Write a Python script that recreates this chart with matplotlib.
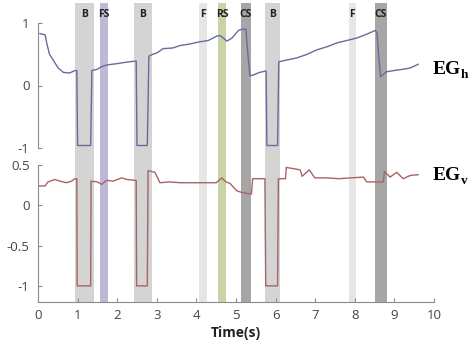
import matplotlib
matplotlib.use("Agg")
import matplotlib.pyplot as plt

# ---- data ----
event_labels = ["B", "FS", "B", "F", "RS", "CS", "B", "F", "CS"]
event_start = [0.93, 1.56, 2.42, 4.07, 4.55, 5.12, 5.73, 7.85, 8.50]
event_end = [1.41, 1.78, 2.88, 4.28, 4.76, 5.37, 6.11, 8.02, 8.81]
event_colors = {"B": "#d4d4d4", "FS": "#bdb9d6", "F": "#e6e6e6",
                "RS": "#c9d4a6", "CS": "#a6a6a6"}

egh_t = [0.05, 0.18, 0.22, 0.29, 0.39, 0.51, 0.64, 0.80, 0.93, 0.98, 1.00, 1.33, 1.36,
         1.50, 1.60, 1.75, 2.00, 2.20, 2.45, 2.48, 2.50, 2.76, 2.80, 2.90, 3.00, 3.16,
         3.40, 3.59, 3.80, 4.09, 4.30, 4.51, 4.60, 4.77, 4.90, 5.06, 5.15, 5.25, 5.30,
         5.35, 5.40, 5.60, 5.74, 5.76, 5.78, 6.05, 6.08, 6.30, 6.53, 6.80, 7.04, 7.30,
         7.54, 7.80, 8.05, 8.30, 8.51, 8.56, 8.60, 8.65, 8.80, 9.00, 9.22, 9.40, 9.60]
egh_v = [0.83, 0.81, 0.68, 0.50, 0.40, 0.28, 0.21, 0.20, 0.24, 0.24, -0.96, -0.96, 0.24,
         0.26, 0.30, 0.33, 0.35, 0.37, 0.39, 0.39, -0.96, -0.96, 0.47, 0.50, 0.52, 0.59,
         0.60, 0.64, 0.66, 0.70, 0.72, 0.79, 0.80, 0.71, 0.76, 0.88, 0.90, 0.90, 0.50,
         0.16, 0.16, 0.21, 0.23, 0.23, -0.96, -0.96, 0.38, 0.41, 0.44, 0.50, 0.57, 0.62,
         0.68, 0.72, 0.76, 0.82, 0.88, 0.85, 0.50, 0.14, 0.22, 0.24, 0.26, 0.28, 0.34]

egv_t = [0.03, 0.18, 0.25, 0.43, 0.55, 0.72, 0.85, 0.93, 0.98, 0.99, 1.33, 1.34, 1.50,
         1.61, 1.73, 1.90, 2.11, 2.25, 2.45, 2.48, 2.49, 2.76, 2.78, 2.95, 3.08, 3.30,
         3.60, 4.00, 4.50, 4.64, 4.75, 4.85, 5.02, 5.14, 5.39, 5.42, 5.73, 5.75, 6.05,
         6.07, 6.25, 6.27, 6.62, 6.67, 6.85, 6.99, 7.30, 7.60, 7.90, 8.22, 8.30, 8.72,
         8.75, 8.89, 9.06, 9.22, 9.40, 9.60]
egv_v = [0.24, 0.24, 0.29, 0.32, 0.30, 0.28, 0.30, 0.33, 0.33, -1.0, -1.0, 0.30, 0.29,
         0.26, 0.31, 0.30, 0.34, 0.32, 0.31, 0.31, -1.0, -1.0, 0.43, 0.41, 0.28, 0.29,
         0.28, 0.28, 0.28, 0.34, 0.29, 0.27, 0.18, 0.16, 0.14, 0.33, 0.33, -1.0, -1.0,
         0.33, 0.33, 0.47, 0.44, 0.36, 0.44, 0.34, 0.34, 0.33, 0.34, 0.35, 0.29, 0.29,
         0.42, 0.35, 0.41, 0.33, 0.37, 0.38]

x_ticks = [0, 1, 2, 3, 4, 5, 6, 7, 8, 9, 10]
top_ticks = [-1, 0, 1]
bot_ticks = [-1, -0.5, 0, 0.5]
bot_tick_labels = ["-1", "-0.5", "0", "0.5"]

W, H = 472, 347
fig = plt.figure(figsize=(W / 100, H / 100), dpi=100)
plt.rcParams['font.family'] = ['Open Sans', 'DejaVu Sans']

def rect(x0, y_top, x1, y_bot):
    return [x0 / W, (H - y_bot) / H, (x1 - x0) / W, (y_bot - y_top) / H]

axis_color = "#8c8c8c"
tick_color = "#444444"

# background shading axes
ax_bg = fig.add_axes(rect(38, 3, 434, 302))
ax_bg.set_xlim(0, 10)
ax_bg.set_ylim(0, 1)
for s0, s1, lab in zip(event_start, event_end, event_labels):
    ax_bg.axvspan(s0, s1, color=event_colors[lab], lw=0)
    ax_bg.text((s0 + s1) / 2, 0.96, lab, ha="center", va="center",
               fontsize=7.5, fontweight="bold", color="#222222")
ax_bg.axis("off")

# top panel
ax1 = fig.add_axes(rect(38, 23, 434, 148))
ax1.patch.set_alpha(0)
ax1.plot(egh_t, egh_v, color="#6a6a9c", lw=1.0)
ax1.set_xlim(0, 10)
ax1.set_ylim(-1, 1)
ax1.set_yticks(top_ticks)
ax1.set_yticklabels([str(t) for t in top_ticks])
ax1.set_xticks([])
for s in ["top", "right", "bottom"]:
    ax1.spines[s].set_visible(False)
ax1.spines["left"].set_color(axis_color)
ax1.tick_params(axis="y", direction="in", length=3, color=axis_color,
                labelsize=9.5, labelcolor=tick_color, pad=6)

# bottom panel
ax2 = fig.add_axes(rect(38, 165, 434, 302))
ax2.patch.set_alpha(0)
ax2.plot(egv_t, egv_v, color="#a86464", lw=1.0)
ax2.set_xlim(0, 10)
ax2.set_ylim(-1.2, 0.5)
ax2.set_yticks(bot_ticks)
ax2.set_yticklabels(bot_tick_labels)
ax2.set_xticks(x_ticks)
ax2.set_xticklabels([str(t) for t in x_ticks])
for s in ["top", "right"]:
    ax2.spines[s].set_visible(False)
ax2.spines["left"].set_color(axis_color)
ax2.spines["bottom"].set_color(axis_color)
ax2.tick_params(axis="both", direction="in", length=3, color=axis_color,
                labelsize=9.5, labelcolor=tick_color)
ax2.tick_params(axis="y", pad=6)
ax2.tick_params(axis="x", pad=5)
ax2.set_xlabel("Time(s)", fontsize=10, fontweight="bold", color="#222222", labelpad=3)

# series labels
fig.text(433 / W, 1 - 70 / H, "EG", fontsize=14, fontweight="bold",
         family="Liberation Serif", va="center", ha="left")
fig.text(461 / W, 1 - 75 / H, "h", fontsize=9.5, fontweight="bold",
         family="Liberation Serif", va="center", ha="left")
fig.text(433 / W, 1 - 176 / H, "EG", fontsize=14, fontweight="bold",
         family="Liberation Serif", va="center", ha="left")
fig.text(461 / W, 1 - 181 / H, "v", fontsize=9.5, fontweight="bold",
         family="Liberation Serif", va="center", ha="left")

fig.savefig("out.png", dpi=100)
